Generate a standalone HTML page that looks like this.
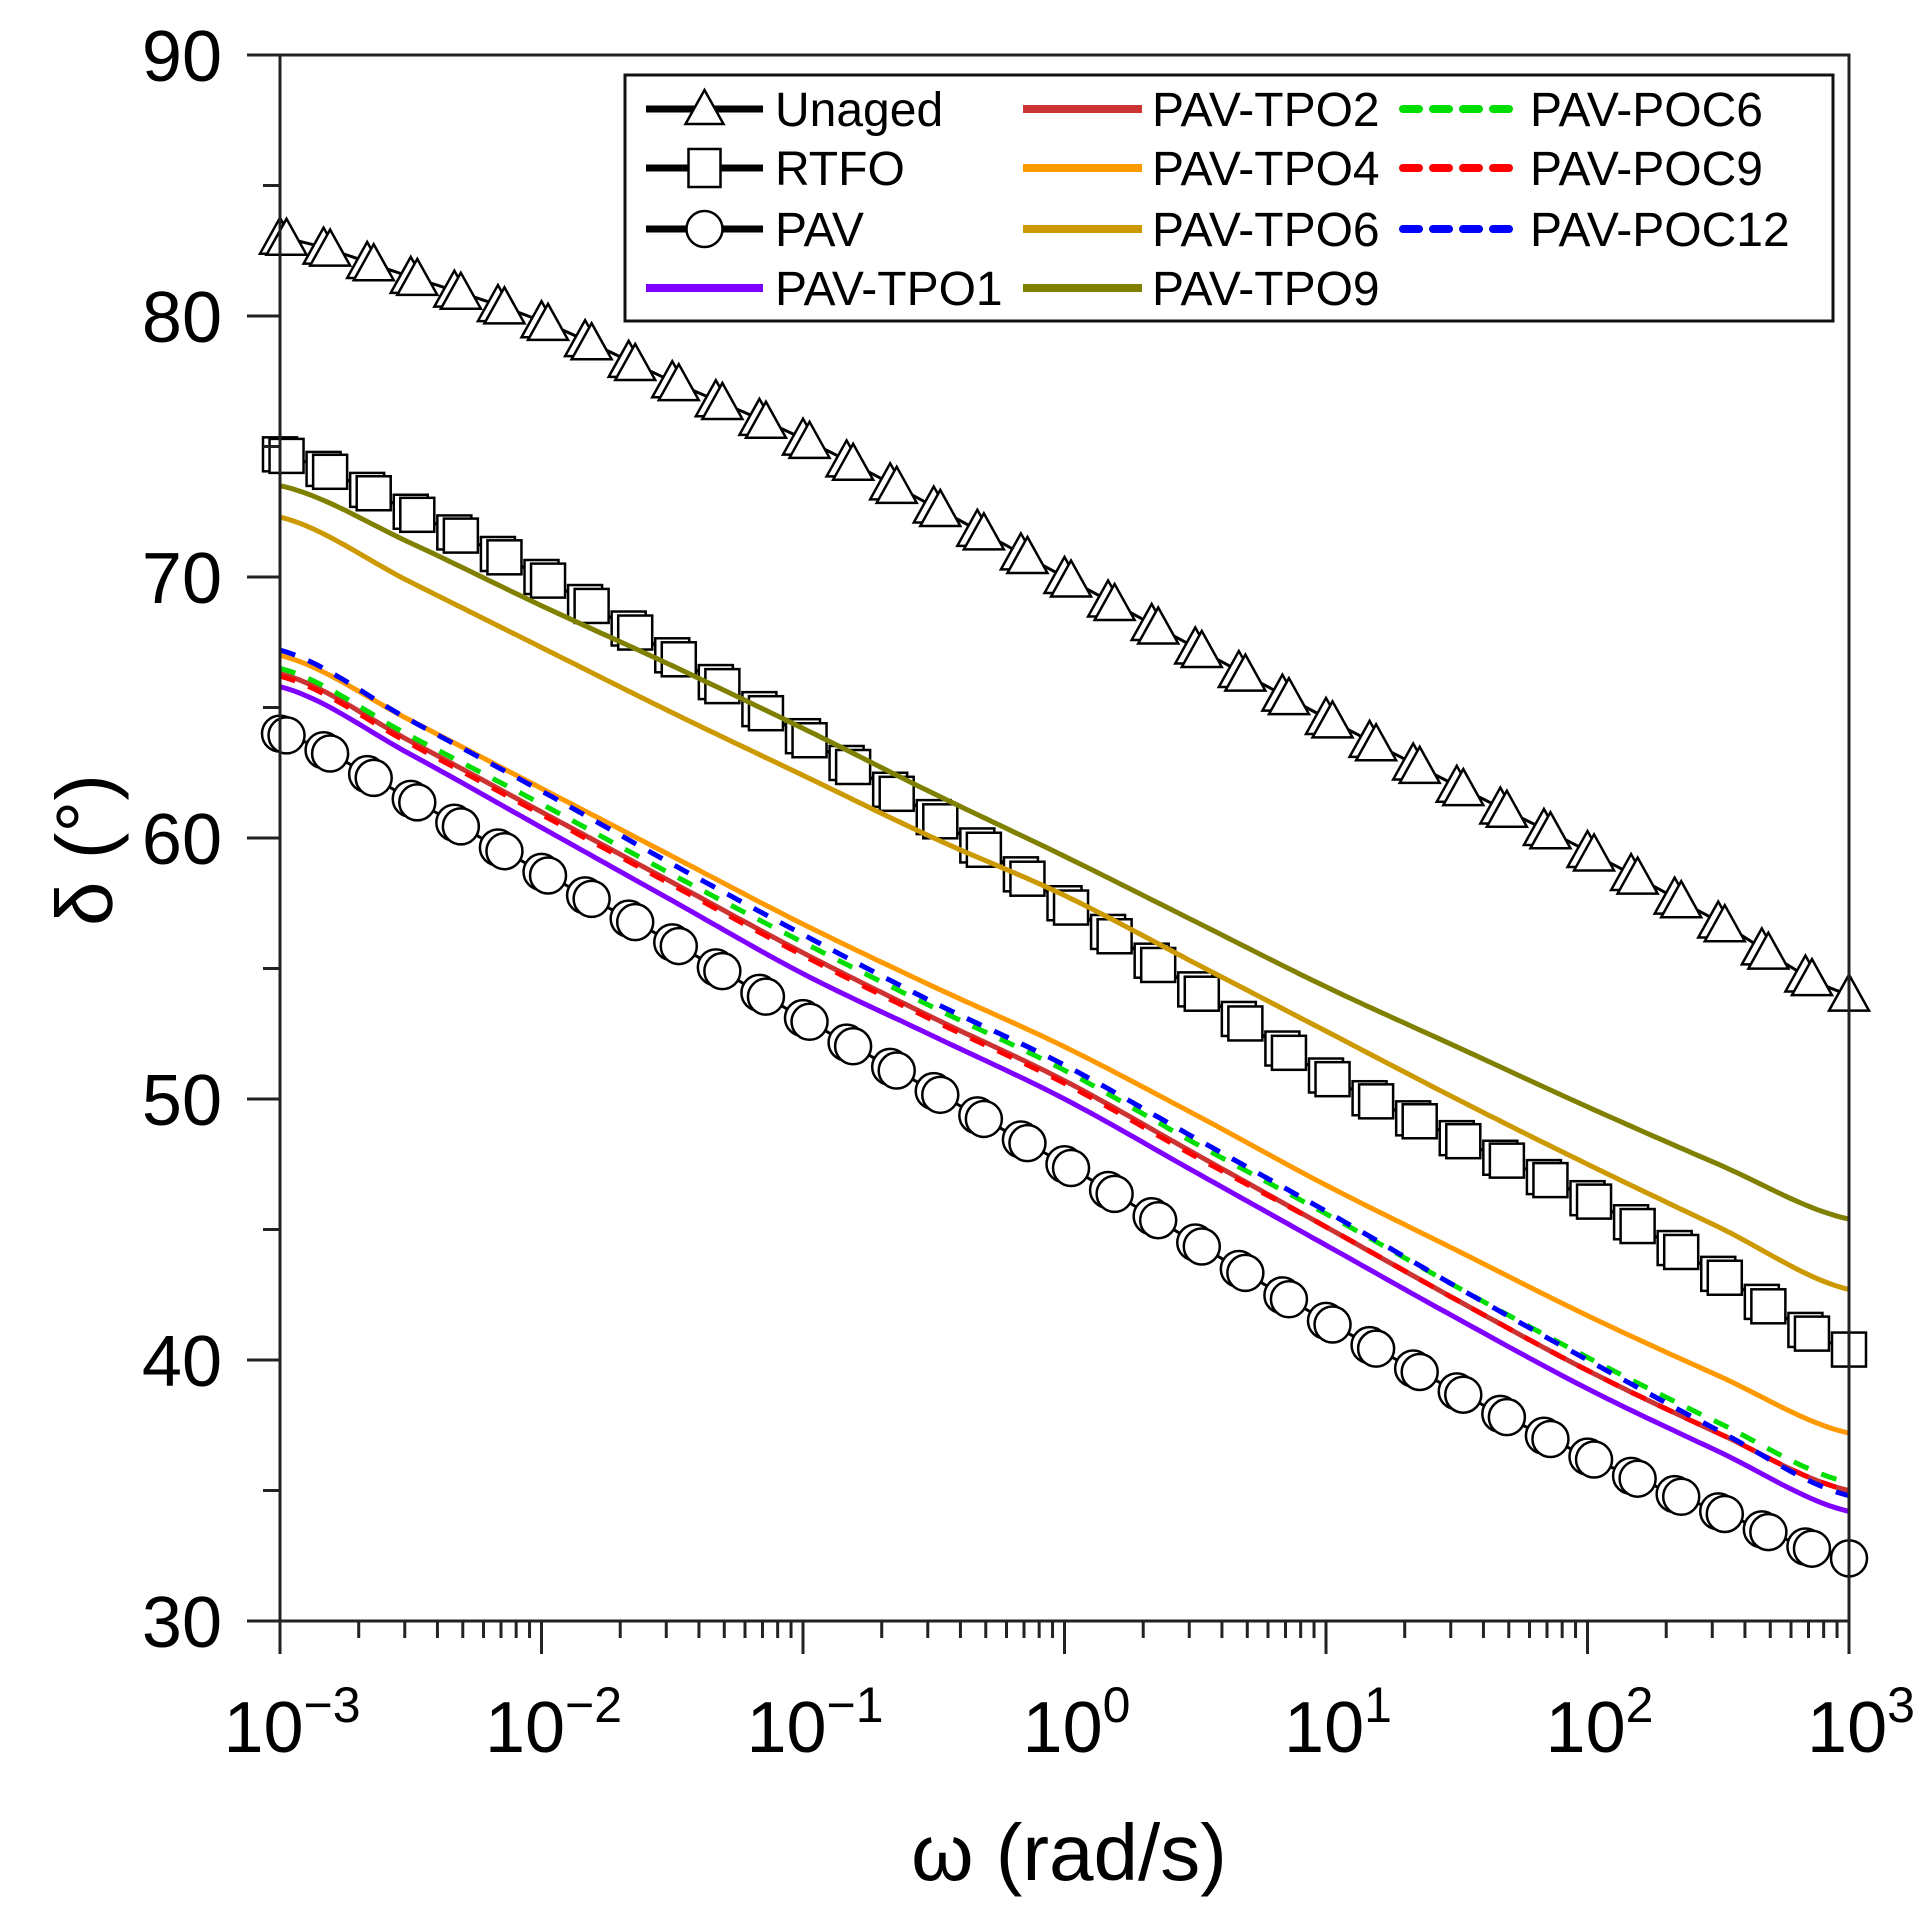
<!DOCTYPE html>
<html><head><meta charset="utf-8"><style>
html,body{margin:0;padding:0;background:#fff;}
svg{display:block;font-family:"Liberation Sans",Arial,sans-serif;}
</style></head><body>
<svg id="chart" width="1928" height="1910" viewBox="0 0 1928 1910" xmlns="http://www.w3.org/2000/svg">
<g id="series"></g>
<g id="axes"></g>
<g id="legend"></g>
</svg>
<script>
const logOmega = [-3,-2.5,-2,-1.5,-1,-0.5,0,0.5,1,1.5,2,2.5,3];
const unaged = [83,81.5,79.8,77.5,75.3,72.7,70,67.3,64.6,62,59.5,56.8,54];
const rtfo = [74.7,72.5,70,67,63.9,60.8,57.5,54.2,50.9,48.5,46.2,43.3,40.4];
const pav = [64,61.5,58.7,56,53.1,50.3,47.5,44.5,41.5,38.8,36.3,34.2,32.4];
const tpo1 = [65.8,63.2,60.4,57.6,54.8,52.4,50,47.2,44.4,41.6,38.9,36.5,34.2];
const tpo2 = [66.3,63.7,61,58.3,55.6,53.1,50.7,47.9,45.1,42.3,39.6,37.2,35];
const tpo4 = [67,64.5,61.9,59.3,56.7,54.3,52,49.4,46.7,44.2,41.7,39.4,37.2];
const tpo6 = [72.3,69.8,67.3,64.8,62.4,60,57.8,55.2,52.6,50,47.5,45.1,42.7];
const tpo9 = [73.5,71.3,68.9,66.6,64.2,61.7,59.3,56.8,54.3,52,49.7,47.5,45.4];
const poc6 = [66.5,63.9,61.3,58.6,56,53.5,51.1,48.3,45.6,42.8,40.1,37.6,35.3];
const poc9 = [66.2,63.6,60.9,58.2,55.5,53,50.6,47.8,45.1,42.3,39.6,37.2,35];
const poc12 = [67.2,64.5,61.8,59,56.3,53.7,51.3,48.5,45.7,42.8,40,37.3,34.8];
const yTicks = [30,40,50,60,70,80,90];
const xTickExp = [-3,-2,-1,0,1,2,3];

const NS='http://www.w3.org/2000/svg';
const L=280,R=1849,T=55,B=1621;
function xs(lw){return L+(lw+3)/6*(R-L);}
function ys(v){return T+(90-v)/60*(B-T);}
function mk(tag,attrs,parent){const e=document.createElementNS(NS,tag);for(const k in attrs)e.setAttribute(k,attrs[k]);parent.appendChild(e);return e;}
function interp(arr,lw){
  const n=logOmega.length;
  let i=0;
  while(i<n-2 && lw>logOmega[i+1])i++;
  const t=(lw-logOmega[i])/(logOmega[i+1]-logOmega[i]);
  const p0=arr[Math.max(i-1,0)],p1=arr[i],p2=arr[i+1],p3=arr[Math.min(i+2,n-1)];
  const t2=t*t,t3=t2*t;
  return 0.5*((2*p1)+(-p0+p2)*t+(2*p0-5*p1+4*p2-p3)*t2+(-p0+3*p1-3*p2+p3)*t3);
}
const ser=document.getElementById('series'),ax=document.getElementById('axes'),lg=document.getElementById('legend');

function pathD(arr){
  let d='';
  for(let k=0;k<=240;k++){const lw=-3+k*0.025;d+=(k?'L':'M')+xs(lw).toFixed(1)+' '+ys(interp(arr,lw)).toFixed(1)+' ';}
  return d;
}

function markerSeries(arr,name,shape){
  const g=mk('g',{},ser);
  
  
  const ln=mk('path',{d:pathD(arr),fill:'none',stroke:'#000','stroke-width':3},g);
  
  
  const pts=[];
  for(let k=0;k<=36;k++){const lw=-3+k/6;pts.push(lw);if(k<36)pts.push(lw+0.025);}
  pts.forEach(lw=>{
    if(lw>3)return;
    const cx=xs(lw),cy=ys(interp(arr,lw));
    let m;
    if(shape==='tri'){const s=20;m=mk('polygon',{points:`${cx},${cy-s} ${cx-s},${cy+s*0.8} ${cx+s},${cy+s*0.8}`,fill:'#fff',stroke:'#000','stroke-width':2.5},g);}
    else if(shape==='sq'){const s=17;m=mk('rect',{x:cx-s,y:cy-s,width:2*s,height:2*s,fill:'#fff',stroke:'#000','stroke-width':2.5},g);}
    else {m=mk('circle',{cx:cx,cy:cy,r:18,fill:'#fff',stroke:'#000','stroke-width':2.5},g);}
    
    
  });
}
function lineSeries(arr,name,color,dash){
  const p=mk('path',{d:pathD(arr),fill:'none',stroke:color,'stroke-width':5,'stroke-dasharray':dash||'none'},ser);
  
  
}
markerSeries(unaged,'unaged','tri');
markerSeries(rtfo,'rtfo','sq');
markerSeries(pav,'pav','circ');
lineSeries(tpo9,'pav-tpo9','#808000');
lineSeries(tpo6,'pav-tpo6','#cc9900');
lineSeries(tpo4,'pav-tpo4','#ff9900');
lineSeries(tpo1,'pav-tpo1','#8000ff');
lineSeries(tpo2,'pav-tpo2','#cc3333');
lineSeries(poc6,'pav-poc6','#00dd00','16 14');
lineSeries(poc9,'pav-poc9','#ff0000','16 14');
lineSeries(poc12,'pav-poc12','#0000ff','16 14');

const fr=mk('rect',{x:L,y:T,width:R-L,height:B-T,fill:'none',stroke:'#222','stroke-width':3},ax);


yTicks.forEach(v=>{
  const t=mk('line',{x1:L-33,x2:L,y1:ys(v),y2:ys(v),stroke:'#222','stroke-width':3},ax);
  
  
  const tx=mk('text',{x:222,y:ys(v)+26,'font-size':72,'text-anchor':'end',fill:'#000'},ax);
  tx.textContent=v;
  
  
  if(v<90){const m=mk('line',{x1:L-17,x2:L,y1:ys(v+5),y2:ys(v+5),stroke:'#222','stroke-width':3},ax);
  
  }
});
xTickExp.forEach(e=>{
  const x=xs(e);
  const t=mk('line',{x1:x,x2:x,y1:B,y2:B+33,stroke:'#222','stroke-width':3},ax);
  
  
  const tx=mk('text',{x:x+12,y:1752,'font-size':72,'text-anchor':'middle',fill:'#000'},ax);
  
  
  const base=document.createElementNS(NS,'tspan');base.textContent='10';tx.appendChild(base);
  const sup=document.createElementNS(NS,'tspan');sup.setAttribute('dy','-30');sup.setAttribute('font-size','50');sup.textContent=(e<0?'\u2212':'')+Math.abs(e);tx.appendChild(sup);
  if(e<3){for(let k=2;k<=9;k++){const xm=xs(e+Math.log10(k));
    const m=mk('line',{x1:xm,x2:xm,y1:B,y2:B+17,stroke:'#222','stroke-width':3},ax);
    
    }}
});
const xt=mk('text',{x:1069,y:1880,'font-size':80,'text-anchor':'middle',fill:'#000'},ax);
xt.textContent='\u03C9 (rad/s)';


const yt=mk('text',{x:0,y:0,'font-size':80,'text-anchor':'middle',fill:'#000',transform:'translate(112,850) rotate(-90)'},ax);
yt.textContent='\u03B4 (\u00B0)';



const lb=mk('rect',{x:625,y:75,width:1208,height:246,fill:'#fff',stroke:'#111','stroke-width':3},lg);


const rows=[109,168,229,288];
const cols=[[646,763,775],[1023,1142,1152],[1403,1520,1530]];
const entries=[
 [0,0,'Unaged','#000','','tri'],[0,1,'RTFO','#000','','sq'],[0,2,'PAV','#000','','circ'],[0,3,'PAV-TPO1','#8000ff','',''],
 [1,0,'PAV-TPO2','#cc3333','',''],[1,1,'PAV-TPO4','#ff9900','',''],[1,2,'PAV-TPO6','#cc9900','',''],[1,3,'PAV-TPO9','#808000','',''],
 [2,0,'PAV-POC6','#00dd00','16 14',''],[2,1,'PAV-POC9','#ff0000','16 14',''],[2,2,'PAV-POC12','#0000ff','16 14','']];
entries.forEach(en=>{
  const [c,r,label,color,dash,shape]=en;const [x1,x2,tx]=cols[c];const y=rows[r];
  const g=mk('g',{},lg);
  
  
  mk('line',{x1:x1,x2:x2,y1:y,y2:y,stroke:color,'stroke-width':shape?7:8,'stroke-dasharray':dash||'none','stroke-linecap':dash?'round':'butt'},g);
  const cx=(x1+x2)/2;
  if(shape==='tri')mk('polygon',{points:`${cx},${y-19} ${cx-19},${y+15} ${cx+19},${y+15}`,fill:'#fff',stroke:'#000','stroke-width':2.5},g);
  if(shape==='sq')mk('rect',{x:cx-16,y:y-19,width:32,height:38,fill:'#fff',stroke:'#000','stroke-width':2.5},g);
  if(shape==='circ')mk('circle',{cx:cx,cy:y,r:18,fill:'#fff',stroke:'#000','stroke-width':2.5},g);
  const t=mk('text',{x:tx,y:y+17,'font-size':48,fill:'#000'},g);
  t.textContent=label;
});
</script>
</body></html>
